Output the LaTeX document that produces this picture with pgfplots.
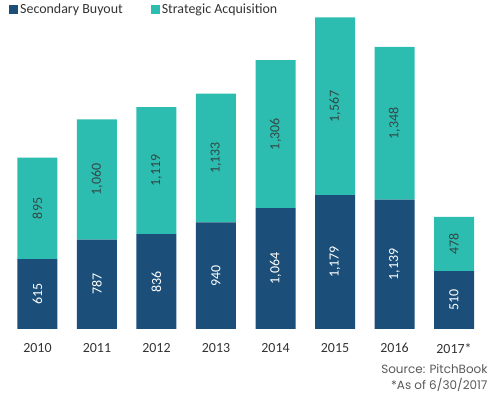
\documentclass[border=0pt]{standalone}
\usepackage{pgfplots}
\pgfplotsset{compat=1.18}
\usepackage{fontspec}
\setmainfont{Carlito}
\newfontfamily\srcfont{Poppins}
\definecolor{sbo}{HTML}{1B4F7A}
\definecolor{sta}{HTML}{2DBDB0}
\definecolor{txt}{HTML}{333333}
\pgfplotsset{
  common/.style={
    at={(0bp,64bp)}, anchor=south west,
    scale only axis, width=500bp, height=329bp,
    xmin=-0.630, xmax=7.773, ymin=0, ymax=2899,
    axis line style={draw=none}, ytick=\empty,
    major tick length=0pt, clip=false,
  }
}
\begin{document}
\begin{tikzpicture}
\path[use as bounding box] (0,0) rectangle (500bp,393bp);
\begin{axis}[
  common,
  ybar stacked, bar width=40bp,
  xtick={0,...,7}, xticklabels={2010,2011,2012,2013,2014,2015,2016,2017*},
  xticklabel style={font=\fontsize{14}{16}\selectfont, text=txt, yshift=-11bp},
  legend columns=2,
  legend style={draw=none, fill=none, at={(0,1)}, anchor=north west, xshift=6bp, yshift=0bp,
    font=\fontsize{14}{16}\selectfont, text=txt,
    /tikz/every even column/.append style={column sep=26bp}},
  legend image code/.code={\fill[#1] (0bp,-4.5bp) rectangle (9bp,4.5bp);},
]
\addplot[fill=sbo, draw=none]
  coordinates {(0,615) (1,787) (2,836) (3,940) (4,1064) (5,1179) (6,1139) (7,510)};
\addlegendentry{Secondary Buyout}
\addplot[fill=sta, draw=none]
  coordinates {(0,895) (1,1060) (2,1119) (3,1133) (4,1306) (5,1567) (6,1348) (7,478)};
\addlegendentry{Strategic Acquisition}
\end{axis}
\begin{axis}[
  common, xtick=\empty,
  nodes near coords, point meta=explicit symbolic,
]
\addplot[draw=none, mark=none,
  every node near coord/.style={anchor=center, rotate=90, text=white, font=\fontsize{14}{16}\selectfont}]
  coordinates {(0,307.5)[615] (1,393.5)[787] (2,418)[836] (3,470)[940] (4,532)[1,064] (5,589.5)[1,179] (6,569.5)[1,139] (7,255)[510]};
\addplot[draw=none, mark=none,
  every node near coord/.style={anchor=center, rotate=90, text=txt!85!sta, font=\fontsize{14}{16}\selectfont}]
  coordinates {(0,1062.5)[895] (1,1317)[1,060] (2,1395.5)[1,119] (3,1506.5)[1,133] (4,1717)[1,306] (5,1962.5)[1,567] (6,1813)[1,348] (7,749)[478]};
\end{axis}
\node[anchor=base east, font=\srcfont\fontsize{12}{14}\selectfont, text=black!65] at (491bp,19.5bp) {Source: PitchBook};
\node[anchor=base east, font=\srcfont\fontsize{12}{14}\selectfont, text=black!65] at (491bp,4bp) {*As of 6/30/2017};
\end{tikzpicture}
\end{document}
